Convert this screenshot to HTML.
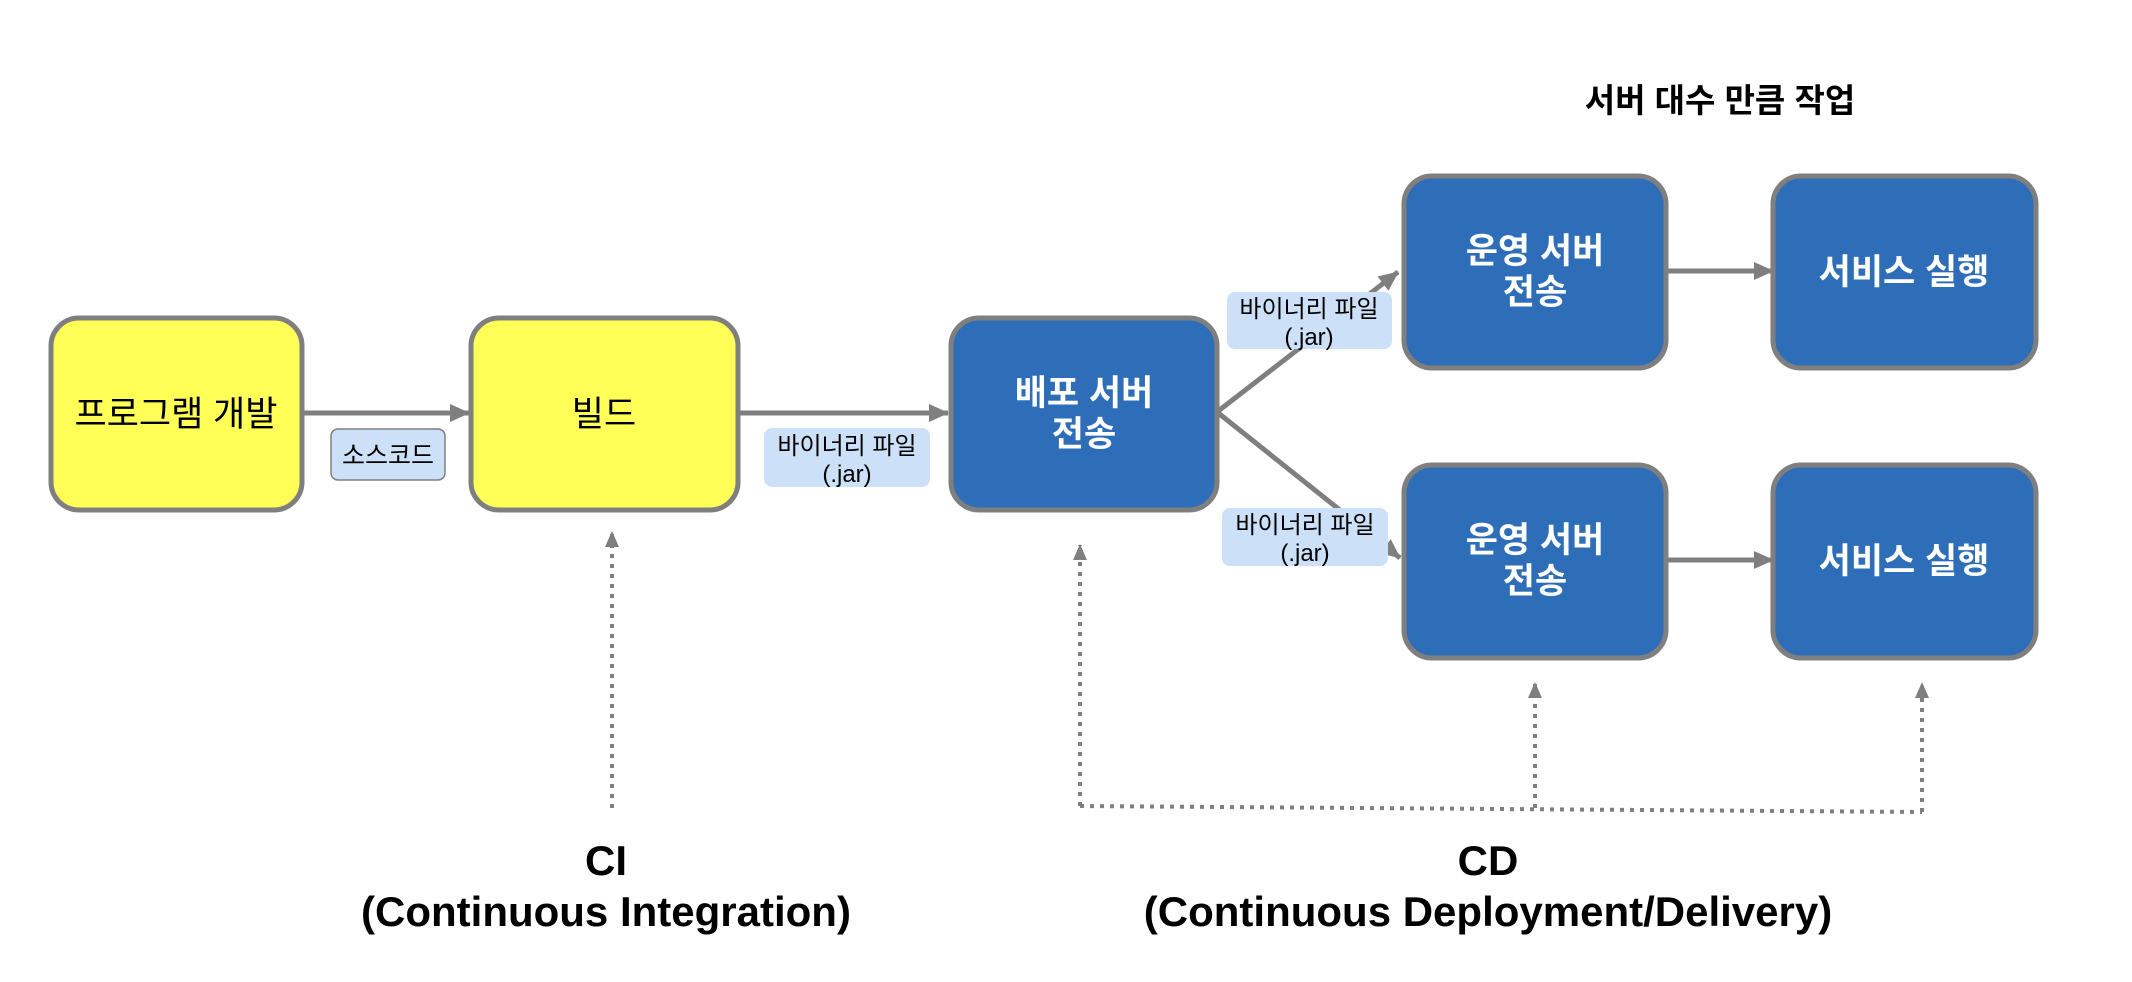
<!DOCTYPE html>
<html><head><meta charset="utf-8"><style>
html,body{margin:0;padding:0;background:#fff;}
svg{display:block;}
text{font-family:"Liberation Sans","Noto Sans CJK KR",sans-serif;}
</style></head><body>
<svg width="2132" height="982" viewBox="0 0 2132 982" xmlns="http://www.w3.org/2000/svg">
<defs>
<marker id="ah" markerWidth="22" markerHeight="22" refX="19" refY="11" orient="auto" markerUnits="userSpaceOnUse">
<path d="M0,2 L20,11 L0,20 z" fill="#7f7f7f"/></marker>
<marker id="ah2" markerWidth="16" markerHeight="18" refX="15" refY="8" orient="auto" markerUnits="userSpaceOnUse">
<path d="M0,1 L16,8 L0,15 z" fill="#7f7f7f"/></marker>
</defs>

<text x="1720" y="112" font-size="33" font-weight="bold" text-anchor="middle">서버 대수 만큼 작업</text>

<g stroke="#7f7f7f" stroke-width="5" fill="none">
<line x1="302" y1="413" x2="469" y2="413" marker-end="url(#ah)"/>
<line x1="738" y1="413" x2="948" y2="413" marker-end="url(#ah)"/>
<line x1="1217" y1="412" x2="1398" y2="272" marker-end="url(#ah)"/>
<line x1="1217" y1="412" x2="1400" y2="558" marker-end="url(#ah)"/>
<line x1="1666" y1="271" x2="1773" y2="271" marker-end="url(#ah)"/>
<line x1="1666" y1="560" x2="1773" y2="560" marker-end="url(#ah)"/>
</g>

<g stroke="#7f7f7f" stroke-width="4" fill="none" stroke-dasharray="4 6">
<line x1="612" y1="808" x2="612" y2="532" marker-end="url(#ah2)"/>
<line x1="1080" y1="806" x2="1080" y2="545" marker-end="url(#ah2)"/>
<line x1="1080" y1="806" x2="1922" y2="812"/>
<line x1="1535" y1="808" x2="1535" y2="683" marker-end="url(#ah2)"/>
<line x1="1922" y1="812" x2="1922" y2="683" marker-end="url(#ah2)"/>
</g>

<g stroke="#7f7f7f" stroke-width="5">
<rect x="51" y="318" width="251" height="192" rx="28" fill="#ffff57"/>
<rect x="471" y="318" width="267" height="192" rx="28" fill="#ffff57"/>
<rect x="951" y="318" width="266" height="192" rx="28" fill="#2e6eb8"/>
<rect x="1404" y="176" width="262" height="192" rx="28" fill="#2e6eb8"/>
<rect x="1773" y="176" width="263" height="192" rx="28" fill="#2e6eb8"/>
<rect x="1404" y="465" width="262" height="193" rx="28" fill="#2e6eb8"/>
<rect x="1773" y="465" width="263" height="193" rx="28" fill="#2e6eb8"/>
</g>

<g font-size="35" text-anchor="middle">
<text x="176" y="426">프로그램 개발</text>
<text x="604" y="426">빌드</text>
</g>
<g font-size="35" font-weight="bold" fill="#fff" text-anchor="middle">
<text x="1084" y="405">배포 서버</text>
<text x="1084" y="446">전송</text>
<text x="1535" y="263">운영 서버</text>
<text x="1535" y="304">전송</text>
<text x="1904" y="284">서비스 실행</text>
<text x="1535" y="552">운영 서버</text>
<text x="1535" y="593">전송</text>
<text x="1904" y="573">서비스 실행</text>
</g>

<rect x="331" y="429" width="114" height="51" rx="7" fill="#cce0f8" stroke="#7f7f7f" stroke-width="1.5"/>
<text x="388" y="464" font-size="25" text-anchor="middle">소스코드</text>
<g font-size="24" text-anchor="middle">
<rect x="764" y="428" width="166" height="59" rx="8" fill="#cce0f8"/>
<text x="847" y="454">바이너리 파일</text><text x="847" y="482">(.jar)</text>
<rect x="1227" y="292" width="165" height="57" rx="8" fill="#cce0f8"/>
<text x="1309" y="317">바이너리 파일</text><text x="1309" y="345">(.jar)</text>
<rect x="1222" y="508" width="166" height="58" rx="8" fill="#cce0f8"/>
<text x="1305" y="533">바이너리 파일</text><text x="1305" y="561">(.jar)</text>
</g>

<g font-size="42" font-weight="bold" text-anchor="middle">
<text x="606" y="875">CI</text>
<text x="606" y="926">(Continuous Integration)</text>
<text x="1488" y="875">CD</text>
<text x="1488" y="926">(Continuous Deployment/Delivery)</text>
</g>
</svg>
</body></html>
